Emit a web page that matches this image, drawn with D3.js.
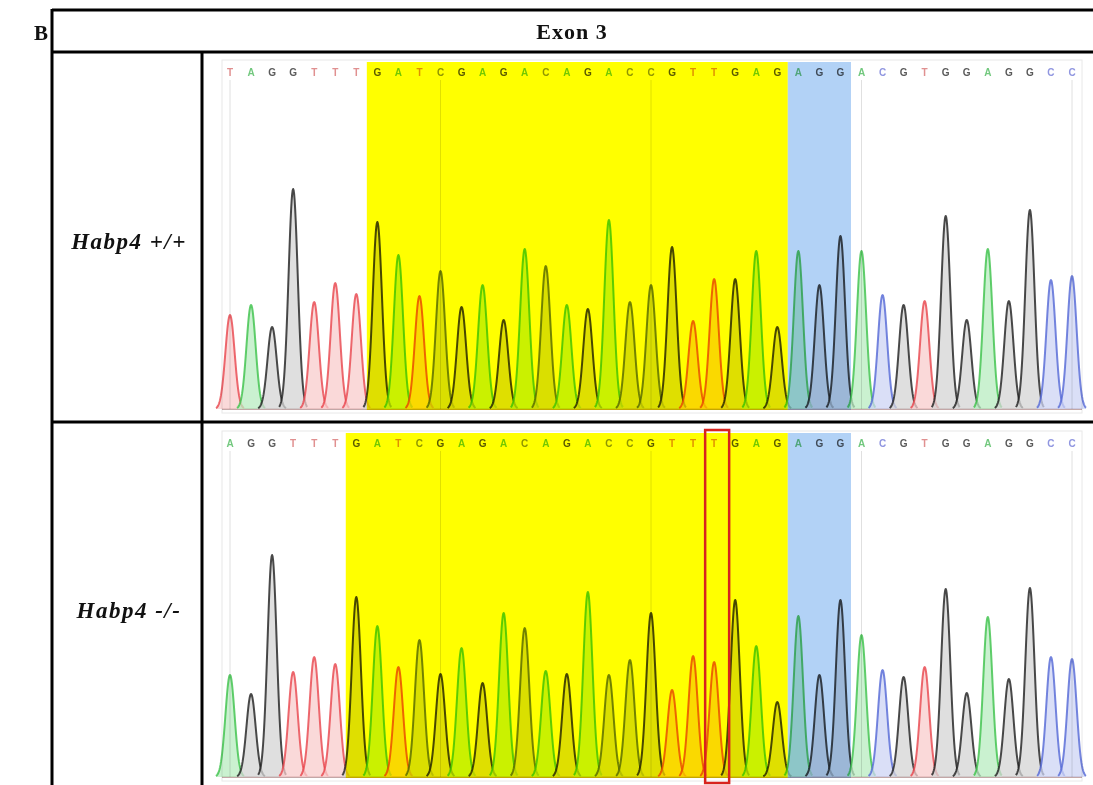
<!DOCTYPE html>
<html lang="en">
	<head>
		<meta charset="utf-8">
		<title>Habp4 exon 3 chromatograms</title>
		<script src="https://d3js.org/d3.v7.min.js"></script>
		<style type="text/css">
			body { margin: 0; background: #fff; }
			.grid line { stroke: #000; stroke-width: 3; }
			.label { font-family: "Liberation Serif", "Times New Roman", serif; font-weight: bold; fill: #111; }
			.base { font-family: "Liberation Sans", Arial, sans-serif; font-size: 10px; font-weight: bold; }
			.blend { mix-blend-mode: multiply; }
		</style>
	</head>
	<body>
		<script type="text/javascript">
			//Sequences (one letter per peak)
			var seqWT = "TAGGTTTGATCGAGACAGACCGTTGAGAGGACGTGGAGGCC".split("");
			var seqKO = "AGGTTTGATCGAGACAGACCGTTTGAGAGGACGTGGAGGCC".split("");

			//Peak heights (signal, arbitrary units)
			var heightsWT = [94, 104, 82, 220, 107, 126, 115, 187, 154, 113, 138, 102, 124, 89, 160, 143, 104, 100, 189, 107,
							 124, 162, 88, 130, 130, 158, 82, 158, 124, 173, 158, 114, 104, 108, 193, 89, 160, 108, 199, 129, 133];
			var heightsKO = [102, 83, 222, 105, 120, 113, 180, 151, 110, 137, 103, 129, 94, 164, 149, 106, 103, 185, 102, 117,
							 164, 87, 121, 115, 177, 131, 75, 161, 102, 177, 142, 107, 100, 110, 188, 84, 160, 98, 189, 120, 118];

			//Highlighted stretches, in base positions
			var yellowWT = [6.5, 26.5];
			var yellowKO = [5.5, 26.5];
			var pamRange = [26.5, 29.5];
			var insertedBase = 23;		//the extra T in the -/- trace

			var rowLabels = ["Habp4 +/+", "Habp4 -/-"];
			var headerText = "Exon 3";
			var panelLetter = "B";

			var w = 1093;
			var h = 785;

			var baseColor = { A: "#3cc24a", C: "#5468d6", G: "#1e1e1e", T: "#e8454c" };
			var fillColor = { A: "#b8ecc0", C: "#cdd4f4", G: "#d4d4d4", T: "#f8cccc" };
			var letterColor = { A: "#72c87e", C: "#9096e0", G: "#5a5a5a", T: "#e09090" };

			var svg = d3.select("body")
						.append("svg")
						.attr("width", w)
						.attr("height", h);

			//x scale: base index -> pixel (same for both traces)
			var xScale = d3.scaleLinear()
							.domain([0, 40])
							.range([230, 1072]);

			var panels = [
				{ seq: seqWT, heights: heightsWT, yellow: yellowWT, top: 60, baseline: 409 },
				{ seq: seqKO, heights: heightsKO, yellow: yellowKO, top: 431, baseline: 777 }
			];

			var sigma = 4.6;
			var offsets = d3.range(-14, 14.01, 0.5);

			panels.forEach(function(p, pi) {
				var yScale = d3.scaleLinear()
								.domain([0, 250])
								.range([p.baseline, p.baseline - 250]);

				var g = svg.append("g").attr("class", "panel");

				//faint panel frame
				g.append("rect")
					.attr("x", 222)
					.attr("y", p.top)
					.attr("width", 860)
					.attr("height", p.baseline + 4 - p.top)
					.attr("fill", "none")
					.attr("stroke", "#e8e8e8")
					.attr("stroke-width", 1);

				//highlight boxes
				g.append("rect")
					.attr("x", xScale(p.yellow[0]))
					.attr("y", p.top + 2)
					.attr("width", xScale(p.yellow[1]) - xScale(p.yellow[0]))
					.attr("height", p.baseline + 1 - p.top - 2)
					.attr("fill", "#ffff00");
				g.append("rect")
					.attr("x", xScale(pamRange[0]))
					.attr("y", p.top + 2)
					.attr("width", xScale(pamRange[1]) - xScale(pamRange[0]))
					.attr("height", p.baseline + 1 - p.top - 2)
					.attr("fill", "#b2d2f6");

				//ruler lines every 10 bases
				g.selectAll("line.tick")
					.data(d3.range(0, 41, 10))
					.enter()
					.append("line")
					.attr("class", "tick")
					.attr("x1", function(d) { return xScale(d); })
					.attr("x2", function(d) { return xScale(d); })
					.attr("y1", p.top + 20)
					.attr("y2", p.baseline)
					.attr("stroke", "#e0e0e0")
					.attr("stroke-width", 1)
					.style("mix-blend-mode", "multiply");

				var blend = g.append("g").attr("class", "blend");

				//base calls
				blend.selectAll("text")
					.data(p.seq)
					.enter()
					.append("text")
					.attr("class", "base")
					.attr("x", function(d, i) { return xScale(i); })
					.attr("y", p.top + 16)
					.attr("text-anchor", "middle")
					.attr("fill", function(d) { return letterColor[d]; })
					.text(function(d) { return d; });

				//baseline noise
				blend.append("line")
					.attr("x1", 222)
					.attr("x2", 1082)
					.attr("y1", p.baseline)
					.attr("y2", p.baseline)
					.attr("stroke", "#7a3a3a")
					.attr("stroke-opacity", 0.6)
					.attr("stroke-width", 1.5);

				var area = d3.area()
							.x(function(d) { return d[0]; })
							.y0(yScale(0))
							.y1(function(d) { return d[1]; });
				var line = d3.line()
							.x(function(d) { return d[0]; })
							.y(function(d) { return d[1]; });

				var peaks = p.seq.map(function(b, i) {
					var cx = xScale(i);
					var pts = offsets.map(function(o) {
						return [cx + o, yScale(p.heights[i] * Math.exp(-o * o / (2 * sigma * sigma)))];
					});
					return { base: b, pts: pts };
				});

				var pg = blend.selectAll("g.peak")
							.data(peaks)
							.enter()
							.append("g")
							.attr("class", "peak");
				pg.append("path")
					.attr("d", function(d) { return area(d.pts); })
					.attr("fill", function(d) { return fillColor[d.base]; })
					.attr("fill-opacity", 0.75);
				pg.append("path")
					.attr("d", function(d) { return line(d.pts); })
					.attr("fill", "none")
					.attr("stroke", function(d) { return baseColor[d.base]; })
					.attr("stroke-width", 2)
					.attr("stroke-opacity", 0.8)
					.attr("stroke-linejoin", "round");

				//inserted base box
				if (pi == 1) {
					g.append("rect")
						.attr("x", xScale(insertedBase) - 9)
						.attr("y", p.top - 1)
						.attr("width", 24)
						.attr("height", h - 2 - p.top + 1)
						.attr("fill", "none")
						.attr("stroke", "#d8231e")
						.attr("stroke-width", 2.5);
				}
			});

			//table grid
			var grid = svg.append("g").attr("class", "grid");
			grid.append("line").attr("x1", 52).attr("x2", w).attr("y1", 10).attr("y2", 10);
			grid.append("line").attr("x1", 52).attr("x2", w).attr("y1", 52).attr("y2", 52);
			grid.append("line").attr("x1", 52).attr("x2", w).attr("y1", 422).attr("y2", 422);
			grid.append("line").attr("x1", 52).attr("x2", 52).attr("y1", 9).attr("y2", h);
			grid.append("line").attr("x1", 202).attr("x2", 202).attr("y1", 52).attr("y2", h);

			svg.append("text")
				.attr("class", "label")
				.attr("x", 41)
				.attr("y", 40)
				.attr("text-anchor", "middle")
				.style("font-size", "21px")
				.text(panelLetter);

			svg.append("text")
				.attr("class", "label")
				.attr("x", 572)
				.attr("y", 39)
				.attr("text-anchor", "middle")
				.style("font-size", "22px")
				.style("letter-spacing", "1px")
				.text(headerText);

			svg.selectAll("text.row")
				.data(rowLabels)
				.enter()
				.append("text")
				.attr("class", "label row")
				.attr("x", 129)
				.attr("y", function(d, i) { return i == 0 ? 249 : 618; })
				.attr("text-anchor", "middle")
				.style("font-size", "23px")
				.style("font-style", "italic")
				.style("letter-spacing", "1.5px")
				.text(function(d) { return d; });
		</script>
	</body>
</html>
